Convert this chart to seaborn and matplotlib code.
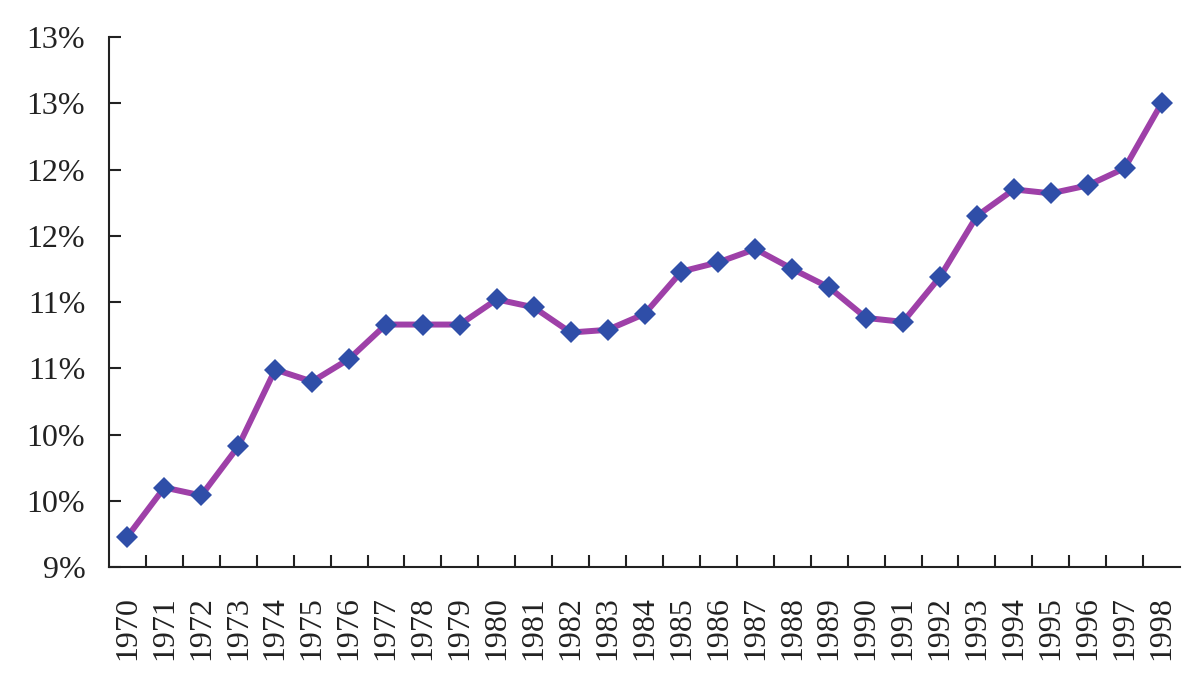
import math
import pandas as pd
import matplotlib
matplotlib.use('Agg')
import matplotlib.pyplot as plt
import matplotlib.ticker as ticker
import seaborn as sns

years = list(range(1970, 1999))
share = [9.23, 9.60, 9.54, 9.91, 10.49, 10.40, 10.57, 10.83, 10.83, 10.83,
         11.02, 10.96, 10.77, 10.79, 10.91, 11.23, 11.30, 11.40, 11.25, 11.11,
         10.88, 10.85, 11.19, 11.65, 11.85, 11.82, 11.88, 12.01, 12.50]
yticks = [9.0, 9.5, 10.0, 10.5, 11.0, 11.5, 12.0, 12.5, 13.0]

df = pd.DataFrame({'year': years, 'share': share})

sns.set_style('white')
FONT = 'Liberation Serif'
plt.rcParams['font.family'] = [FONT, 'DejaVu Serif']
plt.rcParams['font.size'] = 23

fig, ax = plt.subplots(figsize=(11.95, 6.83), dpi=100)
fig.subplots_adjust(left=0.0912, right=0.9875, top=0.9458, bottom=0.1698)

sns.lineplot(data=df, x='year', y='share', ax=ax, color='#9E40A8', linewidth=4.3,
             marker='D', markersize=11.5, markerfacecolor='#2F4EA8',
             markeredgecolor='#2F4EA8', markeredgewidth=0)

ax.set_xlim(years[0] - 0.5, years[-1] + 0.5)
ax.set_ylim(yticks[0], yticks[-1])
ax.set_xlabel('')
ax.set_ylabel('')

# year labels centred, tick marks between categories
ax.set_xticks(years)
ax.set_xticklabels([str(y) for y in years], rotation=90, family=FONT, fontsize=23)
ax.set_xticks([y + 0.5 for y in years[:-1]], minor=True)
ax.tick_params(axis='x', which='major', length=0, pad=21)
ax.tick_params(axis='x', which='minor', direction='in', length=8.5, width=1.5,
               color='#222222', bottom=True)

ax.set_yticks(yticks)
ax.set_yticklabels(['{:d}%'.format(int(math.floor(v + 0.5))) for v in yticks],
                   family=FONT, fontsize=23)
ax.tick_params(axis='y', direction='in', length=8.5, width=1.5, color='#222222',
               pad=17, left=True)

for side in ['top', 'right']:
    ax.spines[side].set_visible(False)
for side in ['left', 'bottom']:
    ax.spines[side].set_linewidth(1.5)
    ax.spines[side].set_color('#222222')

ax.tick_params(labelcolor='#222222')

fig.savefig('out.png', dpi=100)
